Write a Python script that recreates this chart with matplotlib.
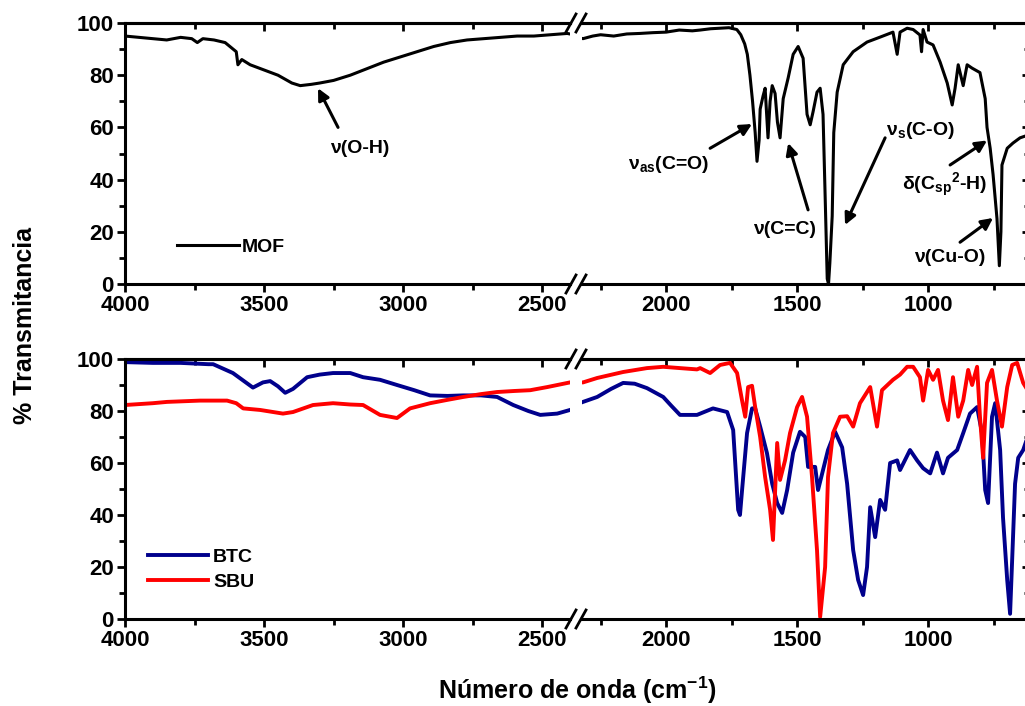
import matplotlib
matplotlib.use("Agg")
import matplotlib.pyplot as plt
from matplotlib.lines import Line2D
from matplotlib.ticker import MultipleLocator

plt.rcParams['font.family'] = ['Liberation Sans', 'DejaVu Sans']
plt.rcParams['font.weight'] = 'bold'
plt.rcParams['mathtext.fontset'] = 'custom'
plt.rcParams['mathtext.rm'] = 'Liberation Sans:bold'
plt.rcParams['mathtext.it'] = 'Liberation Sans:bold'
plt.rcParams['mathtext.bf'] = 'Liberation Sans:bold'

# FTIR spectra (wavenumber in cm-1, % transmittance)
mof_wn = [4000, 3950, 3900, 3850, 3800, 3760, 3740, 3720, 3680, 3640, 3600, 3594, 3580, 3550,
          3500, 3450, 3400, 3370, 3330, 3300, 3250, 3190, 3130, 3070, 3010, 2950, 2890, 2830,
          2770, 2710, 2650, 2590, 2530, 2470, 2410, 2317, 2280, 2250, 2200, 2150, 2100, 2050,
          2000, 1950, 1900, 1870, 1830, 1795, 1760, 1730, 1715, 1700, 1690, 1680, 1670, 1660,
          1653, 1645, 1641, 1630, 1622, 1611, 1603, 1595, 1584, 1575, 1565, 1553, 1534, 1515,
          1496, 1477, 1462, 1450, 1439, 1424, 1412, 1401, 1392, 1385, 1380, 1375, 1366, 1360,
          1347, 1324, 1286, 1233, 1183, 1134, 1118, 1107, 1080, 1057, 1031, 1025, 1019, 1004,
          981, 954, 927, 908, 897, 885, 866, 851, 832, 802, 782, 775, 763, 752, 737, 728, 722,
          718, 698, 676, 649, 620]
mof_t = [95, 94.5, 94, 93.5, 94.5, 94, 92.5, 94, 93.5, 92.5, 89, 84, 86, 84,
         82, 80, 77, 76, 76.5, 77, 78, 80, 82.5, 85, 87, 89, 91, 92.5,
         93.5, 94, 94.5, 95, 95, 95.5, 96, 94, 95, 95.5, 95, 95.8, 96, 96.3,
         96.5, 97.3, 97, 97.3, 97.8, 98, 98.2, 97.5, 95.5, 92, 88, 80, 70, 58,
         47, 55, 67, 72, 75, 56, 70, 76, 73, 62, 56, 71, 79, 88,
         91, 86.5, 65, 61, 66, 73.5, 75, 65, 30, 2, 0, 8, 26, 58,
         73.5, 84, 89, 92.7, 94.6, 96.5, 88, 96.5, 98, 97.5, 95.4, 89, 97.5, 92.7,
         91.6, 85, 77, 68.6, 75, 84, 76, 84, 82.7, 81, 71, 60, 52, 42, 25, 7, 20,
         45.6, 52, 54, 56, 57]

btc_wn = [4000, 3900, 3800, 3700, 3683, 3612, 3540, 3504, 3478, 3450, 3424, 3396, 3345, 3300,
          3252, 3190, 3144, 3083, 3022, 2960, 2903, 2840, 2784, 2720, 2662, 2604, 2550, 2507,
          2446, 2400, 2317, 2263, 2210, 2164, 2120, 2073, 2011, 1980, 1947, 1882, 1821, 1767,
          1744, 1725, 1718, 1710, 1691, 1672, 1660, 1641, 1615, 1595, 1576, 1557, 1538, 1515,
          1489, 1469, 1458, 1431, 1420, 1401, 1382, 1355, 1328, 1309, 1286, 1267, 1248, 1233,
          1221, 1202, 1183, 1164, 1145, 1118, 1107, 1069, 1042, 1019, 992, 966, 943, 924, 889,
          866, 840, 813, 794, 782, 771, 756, 744, 725, 714, 698, 687, 668, 656, 637, 620]
btc_t = [98.8, 98.5, 98.5, 98, 98, 94.6, 89, 91, 91.5, 89.5, 87, 88.5, 93, 94,
         94.6, 94.6, 93, 92, 90, 88, 86, 85.8, 86, 86, 85.4, 82.3, 80, 78.5,
         79, 80.4, 83.5, 85.4, 88.5, 90.8, 90.5, 88.8, 85.4, 82, 78.5, 78.5, 81, 79.6,
         72.7, 42, 40, 49.6, 71.5, 81, 81, 74, 63.8, 52, 44.6, 40.8, 49.6, 64,
         72, 70, 58.5, 58.5, 49.6, 57.3, 65, 72, 66, 52, 26.5, 15, 9.2, 20,
         43, 31.5, 45.8, 42, 60, 61, 57.3, 65, 61, 58, 56, 64, 56, 62, 65,
         71.5, 79, 81.5, 71.5, 49.6, 44.6, 77.8, 83, 65, 39, 15, 2, 52, 62, 65, 70]

sbu_wn = [4000, 3900, 3849, 3730, 3633, 3600, 3575, 3514, 3432, 3396, 3324, 3252, 3190, 3144,
          3083, 3022, 2975, 2903, 2840, 2784, 2720, 2662, 2600, 2543, 2482, 2400, 2317, 2263,
          2164, 2073, 2011, 1947, 1882, 1870, 1832, 1794, 1756, 1729, 1710, 1698, 1687, 1672,
          1660, 1641, 1622, 1603, 1592, 1576, 1565, 1546, 1527, 1500, 1481, 1462, 1443, 1424,
          1412, 1393, 1382, 1363, 1336, 1309, 1286, 1260, 1221, 1195, 1176, 1134, 1107, 1080,
          1057, 1031, 1019, 1000, 981, 962, 943, 924, 905, 885, 866, 847, 832, 813, 802, 790,
          775, 756, 737, 718, 698, 679, 660, 637, 620]
sbu_t = [82.3, 83, 83.5, 84, 84, 83, 81, 80.4, 79, 79.6, 82.3, 83, 82.5, 82.3,
         78.5, 77.3, 81, 83, 84.3, 85.4, 86.5, 87.3, 87.7, 88, 89.2, 91, 91, 92.7,
         95, 96.5, 97, 96.5, 96, 96.5, 94.6, 97.7, 98.5, 94.6, 84, 77.8, 89.2, 89.7,
         81.5, 70, 54.6, 42, 30.4, 67.7, 53.5, 61, 71.5, 81.5, 85.4, 77.8, 54.6, 26.5,
         0.8, 20, 54.6, 71.5, 77.8, 78, 74, 83, 89.2, 74, 88, 92, 94, 97,
         97, 93, 84, 95.8, 92, 95.8, 84, 76.5, 93, 77.8, 84, 95.8, 90, 97, 77.8, 62,
         90.8, 95.8, 84, 74, 89.2, 97.7, 98.5, 90.8, 88]

W, H = 1025, 706
fig = plt.figure(figsize=(W / 100, H / 100), dpi=100)


def box(x0, x1, y0, y1):
    return [x0 / W, 1 - y1 / H, (x1 - x0) / W, (y1 - y0) / H]


def style(ax, left_part):
    ax.set_ylim(0, 100)
    ax.yaxis.set_major_locator(MultipleLocator(20))
    ax.yaxis.set_minor_locator(MultipleLocator(10))
    for s in ax.spines.values():
        s.set_linewidth(2.2)
    ax.tick_params(axis='x', which='both', direction='out', width=2, labelsize=16, pad=2)
    ax.tick_params(which='major', length=6)
    ax.tick_params(which='minor', length=4)
    top = ax.secondary_xaxis('top')
    top.set_xticks(ax.get_xticks(), labels=[])
    top.xaxis.set_minor_locator(ax.xaxis.get_minor_locator())
    top.tick_params(which='both', direction='in', width=2)
    top.tick_params(which='major', length=6)
    top.tick_params(which='minor', length=4)
    top.spines['top'].set_linewidth(2.2)
    if left_part:
        ax.spines['right'].set_visible(False)
        ax.tick_params(axis='y', which='both', direction='out', width=2, labelsize=16, pad=2)
    else:
        ax.spines['left'].set_visible(False)
        ax.tick_params(axis='y', which='both', left=False, labelleft=False,
                       right=True, direction='in', width=2)


panels = []
for (y0, y1) in [(23, 284), (359, 619)]:
    axl = fig.add_axes(box(125, 570, y0, y1))
    axr = fig.add_axes(box(582, 1030, y0, y1))
    axl.set_xlim(4000, 2400)
    axr.set_xlim(2321, 611)
    axl.xaxis.set_major_locator(MultipleLocator(500))
    axl.xaxis.set_minor_locator(MultipleLocator(250))
    axr.xaxis.set_major_locator(MultipleLocator(500))
    axr.xaxis.set_minor_locator(MultipleLocator(250))
    style(axl, True)
    style(axr, False)
    panels.append((axl, axr))

navy = '#00008c'
red = '#ff0000'
for ax in panels[0]:
    ax.plot(mof_wn, mof_t, color='black', lw=2.2, label='MOF')
for ax in panels[1]:
    ax.plot(btc_wn, btc_t, color=navy, lw=2.8, label='BTC')
    ax.plot(sbu_wn, sbu_t, color=red, lw=2.8, label='SBU')

panels[0][0].legend(loc='center left', bbox_to_anchor=(0.095, 0.14), frameon=False,
                    fontsize=14, handlelength=3.2, handletextpad=0.15, borderpad=0)
panels[1][0].legend(loc='center left', bbox_to_anchor=(0.03, 0.19), frameon=False,
                    fontsize=14, handlelength=3.1, handletextpad=0.25, borderpad=0,
                    labelspacing=0.35)

# band assignments on the MOF spectrum
arrow = dict(arrowstyle='-|>', color='black', lw=2.2, mutation_scale=17, shrinkA=0, shrinkB=0)
top_l, top_r = panels[0]
top_l.annotate('', xy=(3306, 75), xytext=(3234, 60), arrowprops=arrow)
top_l.text(3155, 52, 'ν(O-H)', ha='center', va='center', fontsize=14)

notes = [
    ('ν$_{as}$(C=O)', (1992, 45.6), (1832, 52), (1672, 61.3)),
    ('ν(C=C)', (1546, 20.7), (1458, 28.4), (1534, 54)),
    ('ν$_{s}$(C-O)', (1031, 59), (1164, 56), (1317, 22.6)),
    ('δ(C$_{sp}$$^{2}$-H)', (935, 38), (916, 45.6), (775, 55)),
    ('ν(Cu-O)', (916, 10), (878, 16), (752, 25.3)),
]
for label, pos, tail, head in notes:
    top_r.annotate('', xy=head, xytext=tail, arrowprops=arrow)
    top_r.text(pos[0], pos[1], label, ha='center', va='center', fontsize=14)

# axis break marks
for yb in (23, 284, 359, 619):
    for xc in (571, 581):
        fig.add_artist(Line2D([(xc - 5) / W, (xc + 5) / W], [1 - (yb + 9) / H, 1 - (yb - 9) / H],
                              transform=fig.transFigure, color='black', lw=2))

fig.text(25 / W, 1 - 325 / H, '% Transmitancia', rotation=90, ha='center', va='center', fontsize=18)
fig.text(577 / W, 1 - 690 / H, 'Número de onda (cm$^{-1}$)', ha='center', va='center', fontsize=18)

fig.savefig('out.png', dpi=100)
